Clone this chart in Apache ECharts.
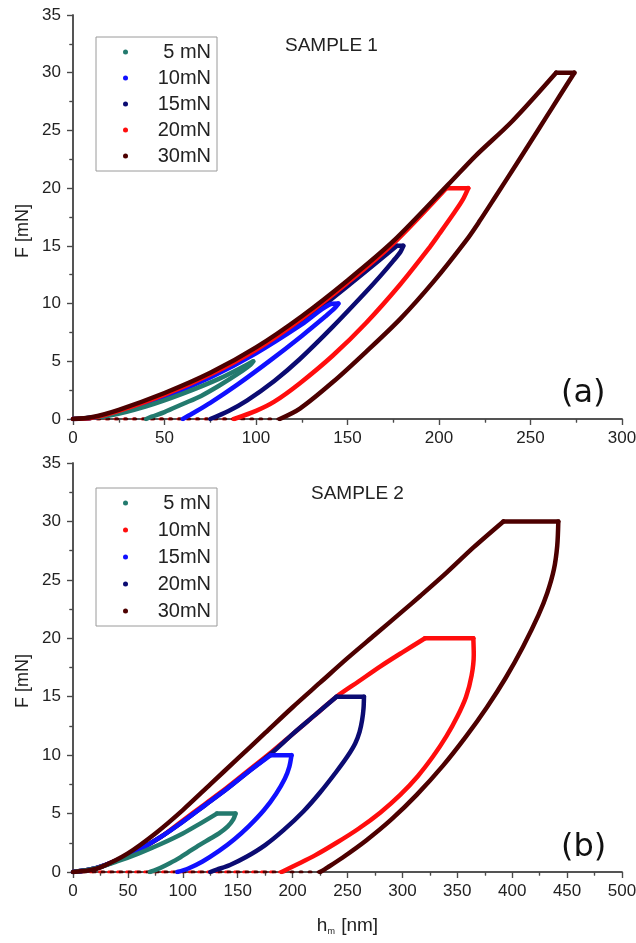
<!DOCTYPE html>
<html><head><meta charset="utf-8">
<script src="https://cdn.jsdelivr.net/npm/echarts@6/dist/echarts.min.js"></script>
<style>html,body{margin:0;padding:0;background:#fff}#c{width:636px;height:943px}</style>
</head><body><div id="c"></div>
<script>
// ---------- legend / labels ----------
const seriesNames = ['5 mN', '10mN', '15mN', '20mN', '30mN'];
const panelTitles = ['SAMPLE 1', 'SAMPLE 2'];
const panelTags = ['(a)', '(b)'];
const yTitle = 'F [mN]';
// ---------- axis ranges ----------
const x1Range = [0, 300, 50];
const x2Range = [0, 500, 50];
const yRange = [0, 35, 5];

// ---------- SAMPLE 1 : [h (nm), F (mN)]  loading -> hold -> unloading ----------
const s1_5mN = [[0,0],[20,0.3],[40,1.1],[60,2.2],[80,3.5],[95,4.7],[98.5,5.0],
  [97,4.7],[90,3.9],[80,2.9],[70,2.0],[60,1.3],[50,0.6],[43,0.2],[40,0]];
const s1_10mN = [[0,0],[10,0.1],[25,0.55],[50,1.9],[75,3.6],[100,5.7],[125,8.2],[140,9.9],[145,10],
  [143,9.6],[138,8.9],[125,7.2],[108,5.1],[90,3.0],[75,1.4],[65,0.45],[60,0]];
const s1_15mN = [[0,0],[10,0.1],[25,0.6],[50,2.0],[75,3.7],[100,5.8],[125,8.4],[150,11.5],[177,15],[180.5,15],
  [179,14.5],[175,13.7],[168,12.4],[160,11.0],[142,8.0],[124,5.2],[110,3.3],[95,1.6],[85,0.7],[75,0]];
const s1_20mN = [[0,0],[10,0.1],[25,0.7],[50,2.1],[75,3.85],[100,6.0],[125,8.7],[150,11.8],[175,15.2],[204,20],[216,20],
  [213,19.0],[208,17.8],[200,16.0],[195,14.9],[179,11.7],[160,8.3],[142,5.5],[124,3.1],[110,1.5],[100,0.7],[88,0]];
const s1_30mN = [[0,0],[10,0.15],[25,0.8],[50,2.25],[75,4.0],[100,6.2],[125,8.9],[150,12.0],[175,15.4],[205,20.3],[220,22.8],[240,25.8],[264,30],[274,30],
  [266,28.0],[258,26.0],[250,24.0],[242,22.0],[231,19.3],[222,17.1],[215,15.5],[197,11.9],[179,8.7],[160,5.8],[142,3.2],[124,0.9],[113,0]];
// points lying on the zero line after unloading (dotted in the original)
const s1_20mN_tail = [[88,0],[0,0]];
const s1_30mN_tail = [[113,0],[0,0]];

// ---------- SAMPLE 2 : [h (nm), F (mN)] ----------
const s2_5mN = [[0,0],[20,0.3],[40,0.9],[60,1.6],[80,2.4],[100,3.3],[115,4.1],[131,5.0],[148,5.0],
  [146,4.5],[141,3.9],[133,3.3],[124,2.8],[115,2.3],[105,1.7],[95,1.1],[85,0.6],[76,0.2],[70,0]];
const s2_10mN = [[0,0],[20,0.3],[40,1.0],[60,1.9],[80,3.0],[100,4.3],[120,5.7],[140,7.1],[160,8.6],[180,10],[199,10],
  [197,9.0],[193,8.0],[185,6.7],[174,5.3],[160,3.9],[147,2.8],[133,1.8],[118,0.9],[105,0.3],[95,0]];
const s2_15mN = [[0,0],[20,0.3],[40,1.0],[60,1.9],[80,3.0],[100,4.3],[120,5.7],[140,7.1],[160,8.6],[180,10.1],[200,11.8],[220,13.4],[240,15],[265,15],
  [264.6,14.0],[263.3,13.0],[261,12.0],[257,11.0],[250,9.9],[240,8.6],[225,6.8],[210,5.2],[192,3.6],[175,2.3],[158,1.3],[143,0.6],[131,0.2],[125,0]];
const s2_20mN = [[0,0],[20,0.3],[40,1.0],[60,1.9],[80,3.0],[100,4.4],[120,5.8],[140,7.2],[160,8.7],[180,10.2],[200,11.8],[220,13.4],[240,15.0],[260,16.3],[280,17.6],[300,18.8],[320.6,20],[364.6,20],
  [365,18.6],[363,16.8],[358,15.0],[350,13.3],[340,11.6],[328,9.9],[314,8.2],[298,6.6],[280,5.1],[260,3.7],[240,2.5],[220,1.4],[203,0.6],[190,0]];
const s2_30mN = [[0,0],[15,0.15],[25,0.4],[50,1.6],[75,3.3],[100,5.3],[125,7.5],[150,9.7],[175,11.9],[200,14.1],[225,16.2],[250,18.3],[275,20.3],[300,22.3],[316,23.6],[340,25.6],[365,27.8],[392,30],[442,30],
  [441,27.9],[438,25.9],[432,23.9],[424,22.0],[410,19.3],[394,16.6],[377,14.1],[358,11.6],[337,9.1],[313,6.6],[290,4.5],[267,2.7],[245,1.2],[232,0.4],[225,0]];
const s2_20mN_tail = [[190,0],[0,0]];
const s2_30mN_tail = [[225,0],[0,0]];

const C = {teal:'#237a6e', blue:'#1010ff', navy:'#0b0b72', red:'#ff0d0d', maroon:'#4d0000'};
const colors1 = [C.teal, C.blue, C.navy, C.red, C.maroon];          // sample 1 curves & legend
const colors2 = [C.teal, C.blue, C.navy, C.red, C.maroon];          // sample 2 curves
const legend2Colors = [C.teal, C.red, C.blue, C.navy, C.maroon];    // sample 2 legend as printed
const data1 = [s1_5mN, s1_10mN, s1_15mN, s1_20mN, s1_30mN];
const data2 = [s2_5mN, s2_10mN, s2_15mN, s2_20mN, s2_30mN];
const tails1 = [null, null, null, s1_20mN_tail, s1_30mN_tail];
const tails2 = [null, null, null, s2_20mN_tail, s2_30mN_tail];
const z1 = [4, 3, 2, 5, 6];
const z2 = [5, 4, 3, 2, 6];

const AX = '#4a4a4a', TXT = '#222';
const FONT = '"Liberation Sans", Arial, sans-serif';

function mainX(grid, r, name) {
  return {
    type: 'value', gridIndex: grid, min: r[0], max: r[1], interval: r[2], position: 'bottom',
    axisLine: {show: true, lineStyle: {color: AX, width: 1.5}},
    axisTick: {show: true, inside: false, length: 6, lineStyle: {color: AX, width: 1.2}},
    minorTick: {show: true, splitNumber: 2, length: 3.5, lineStyle: {color: AX, width: 1.2}},
    splitLine: {show: false}, minorSplitLine: {show: false},
    axisLabel: {show: true, margin: 11, color: TXT, fontSize: 17, fontFamily: FONT},
    name: name || '', nameLocation: 'middle', nameGap: 43,
    nameTextStyle: {color: TXT, fontFamily: FONT,
      rich: {a: {fontSize: 19, color: TXT, fontFamily: FONT},
             s: {fontSize: 9, color: TXT, fontFamily: FONT, verticalAlign: 'bottom', padding: [12, 1, 0, 0]}}}
  };
}
function mirrorX(grid, r) {
  return {
    type: 'value', gridIndex: grid, min: r[0], max: r[1], interval: r[2], position: 'top',
    axisLine: {show: true, lineStyle: {color: AX, width: 1.5}},
    axisTick: {show: true, inside: true, length: 6, lineStyle: {color: AX, width: 1.2}},
    minorTick: {show: true, splitNumber: 2, length: 3.5, lineStyle: {color: AX, width: 1.2}},
    splitLine: {show: false}, axisLabel: {show: false}
  };
}
function mainY(grid) {
  return {
    type: 'value', gridIndex: grid, min: yRange[0], max: yRange[1], interval: yRange[2], position: 'left',
    axisLine: {show: true, lineStyle: {color: AX, width: 1.5}},
    axisTick: {show: true, inside: false, length: 6, lineStyle: {color: AX, width: 1.2}},
    minorTick: {show: true, splitNumber: 2, length: 3.5, lineStyle: {color: AX, width: 1.2}},
    splitLine: {show: false},
    axisLabel: {show: true, margin: 12, color: TXT, fontSize: 17, fontFamily: FONT}
  };
}
function mirrorY(grid) {
  return {
    type: 'value', gridIndex: grid, min: yRange[0], max: yRange[1], interval: yRange[2], position: 'right',
    axisLine: {show: true, lineStyle: {color: AX, width: 1.5}},
    axisTick: {show: true, inside: true, length: 6, lineStyle: {color: AX, width: 1.2}},
    minorTick: {show: true, splitNumber: 2, length: 3.5, lineStyle: {color: AX, width: 1.2}},
    splitLine: {show: false}, axisLabel: {show: false}
  };
}

// split each cycle into loading / hold / unloading branches (each drawn as its own smooth line)
function branches(d) {
  let fmax = Math.max.apply(null, d.map(p => p[1]));
  let i1 = d.findIndex(p => p[1] === fmax);
  let i2 = i1; while (i2 + 1 < d.length && d[i2 + 1][1] === fmax) i2++;
  return [d.slice(0, i1 + 1), d.slice(i1, i2 + 1), d.slice(i2)];
}
const series = [];
function addPanel(datas, tails, cols, zs, axis) {
  datas.forEach((d, i) => {
    branches(d).forEach((b, k) => series.push({
      name: seriesNames[i], type: 'line', xAxisIndex: axis, yAxisIndex: axis, data: b,
      showSymbol: false, symbol: 'none', smooth: k === 1 ? false : 0.3,
      lineStyle: {color: cols[i], width: 4.5, join: 'round', cap: 'round'},
      itemStyle: {color: cols[i]}, z: zs[i], silent: true
    }));
    if (tails[i]) series.push({
      name: seriesNames[i], type: 'line', xAxisIndex: axis, yAxisIndex: axis, data: tails[i],
      showSymbol: false, symbol: 'none',
      lineStyle: {color: cols[i], width: 3, type: [2, 7], cap: 'round'},
      itemStyle: {color: cols[i]}, z: 1, silent: true
    });
  });
}
addPanel(data1, tails1, colors1, z1, 0);
addPanel(data2, tails2, colors2, z2, 2);

function legend(top, cols, gap) {
  return {
    show: true, orient: 'vertical', left: 96, top: top,
    padding: [5, 6, 5, 27], itemGap: gap, itemWidth: 5, itemHeight: 5, icon: 'circle',
    backgroundColor: '#fff', borderColor: '#9a9a9a', borderWidth: 1, selectedMode: false, z: 10,
    data: seriesNames.map((n, i) => ({name: n, itemStyle: {color: cols[i], borderWidth: 0}})),
    formatter: n => '{t|' + n + '}',
    textStyle: {color: TXT, fontFamily: FONT, fontSize: 20,
      rich: {t: {width: 78, align: 'right', fontSize: 20, lineHeight: 20, color: TXT, fontFamily: FONT}}}
  };
}

const option = {
  animation: false,
  backgroundColor: '#fff',
  grid: [
    {left: 73, top: 15, width: 549, height: 404, outerBoundsMode: 'none', containLabel: false},
    {left: 73, top: 463, width: 549, height: 409, outerBoundsMode: 'none', containLabel: false}
  ],
  xAxis: [mainX(0, x1Range), mirrorX(0, x1Range),
          mainX(1, x2Range, '{a|h}{s|m}{a| [nm]}'), mirrorX(1, x2Range)],
  yAxis: [mainY(0), mirrorY(0), mainY(1), mirrorY(1)],
  legend: [legend(37, colors1, 6), legend(488, legend2Colors, 7)],
  graphic: [
    {type: 'text', left: 285, top: 36, silent: true, style: {text: panelTitles[0], font: '19px ' + FONT, fill: TXT}},
    {type: 'text', left: 311, top: 484, silent: true, style: {text: panelTitles[1], font: '19px ' + FONT, fill: TXT}},
    {type: 'text', left: 561, top: 378, silent: true, style: {text: panelTags[0], font: '32px "DejaVu Sans", sans-serif', fill: '#111'}},
    {type: 'text', left: 561, top: 832, silent: true, style: {text: panelTags[1], font: '32px "DejaVu Sans", sans-serif', fill: '#111'}},
    {type: 'text', x: 23, y: 231, rotation: Math.PI / 2, silent: true,
      style: {text: yTitle, font: '18px ' + FONT, fill: TXT, align: 'center', verticalAlign: 'middle'}},
    {type: 'text', x: 23, y: 681, rotation: Math.PI / 2, silent: true,
      style: {text: yTitle, font: '18px ' + FONT, fill: TXT, align: 'center', verticalAlign: 'middle'}}
  ],
  series: series
};
const chart = echarts.init(document.getElementById('c'), null, {renderer: 'canvas'});
chart.setOption(option);
</script></body></html>
